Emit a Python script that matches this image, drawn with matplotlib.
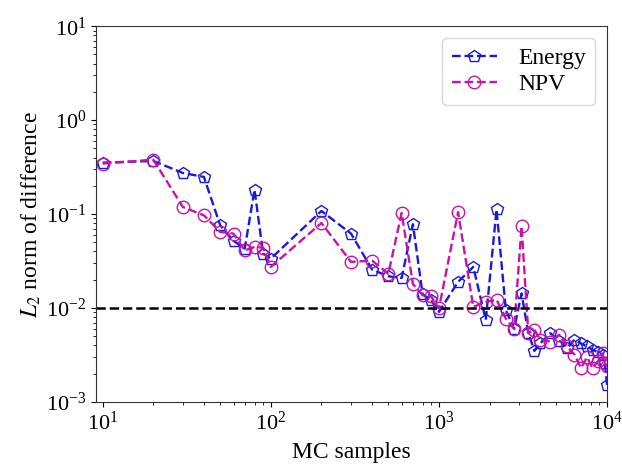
import numpy as np
import matplotlib as mpl
mpl.use('Agg')
import matplotlib.pyplot as plt

mpl.rcParams['font.family'] = ['Liberation Serif', 'DejaVu Serif']
mpl.rcParams['mathtext.fontset'] = 'stix'

# MC sample counts (shared grid)
samples = [10, 20, 30, 40, 50, 60, 70, 80, 90, 100,
           200, 300, 400, 500, 600, 700, 800, 900, 1000,
           1300, 1600, 1900, 2200, 2500, 2800, 3100, 3400, 3700, 4000,
           4600, 5200, 5800, 6400, 7000, 7600, 8200, 8800, 9400, 9700, 10000]

energy = [0.353, 0.368, 0.274, 0.249, 0.076, 0.052, 0.043, 0.182, 0.038, 0.0336,
          0.108, 0.062, 0.0257, 0.0218, 0.0209, 0.078, 0.014, 0.0121, 0.0091,
          0.019, 0.0274, 0.0075, 0.112, 0.0095, 0.0060, 0.0143, 0.0054, 0.0035, 0.0042,
          0.0054, 0.0045, 0.0038, 0.0046, 0.0042, 0.0039, 0.0036, 0.0034, 0.0032, 0.0026, 0.0015]

npv = [0.345, 0.38, 0.119, 0.097, 0.0646, 0.062, 0.041, 0.0447, 0.044, 0.0274,
       0.0805, 0.031, 0.032, 0.0232, 0.103, 0.018, 0.0137, 0.0133, 0.0099,
       0.105, 0.0103, 0.0116, 0.0123, 0.0077, 0.0060, 0.074, 0.0054, 0.0059, 0.0046,
       0.0044, 0.0052, 0.0039, 0.0032, 0.0023, 0.0030, 0.0023, 0.0027, 0.0033, 0.0026, 0.0024]

tolerance = 1e-2

fig = plt.figure(figsize=(6.22, 4.68), dpi=100)
ax = fig.add_axes([0.154, 0.141, 0.822, 0.803])

ax.plot(samples, energy, '--', color='#1a1ad6', marker='p', mfc='none',
        markersize=9, lw=1.7, label='Energy')
ax.plot(samples, npv, '--', color='#c415a8', marker='o', mfc='none',
        markersize=9, lw=1.7, label='NPV')
ax.axhline(tolerance, color='black', ls='--', lw=1.8)

ax.set_xscale('log')
ax.set_yscale('log')
ax.set_xlim(9.1, 1e4)
ax.set_ylim(1e-3, 10)

for spine in ax.spines.values():
    spine.set_color('0.2')

ax.tick_params(labelsize=16)
ax.set_xlabel('MC samples', size=17, labelpad=5)
ax.set_ylabel('$L_2$ norm of difference', size=17, labelpad=2)

leg = ax.legend(loc='upper right', fontsize=17, handlelength=1.9,
                borderpad=0.4, labelspacing=0.2, handletextpad=0.9)

fig.savefig('out.png', dpi=100)
